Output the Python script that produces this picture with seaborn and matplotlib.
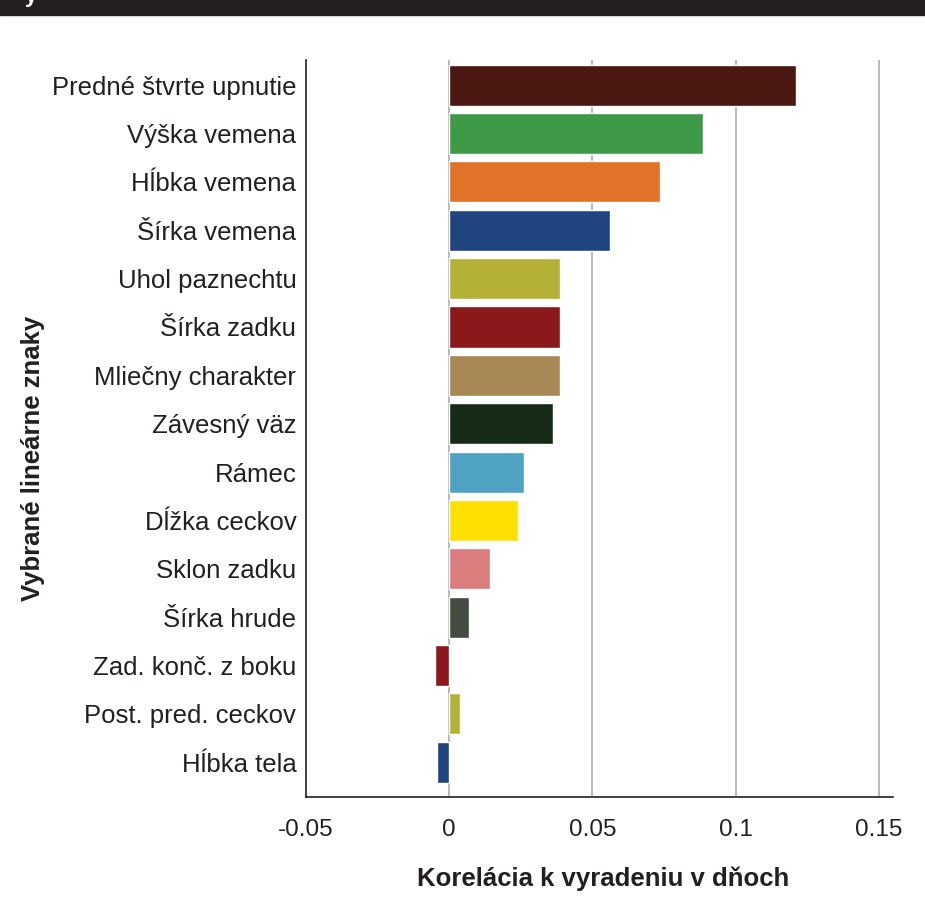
import matplotlib
matplotlib.use("Agg")
import matplotlib.pyplot as plt
import matplotlib.patches as mpatches
import seaborn as sns
import pandas as pd

# Selected linear traits and their correlation with culling (days)
traits = [
    "Predné štvrte upnutie", "Výška vemena", "Hĺbka vemena", "Šírka vemena",
    "Uhol paznechtu", "Šírka zadku", "Mliečny charakter", "Závesný väz",
    "Rámec", "Dĺžka ceckov", "Sklon zadku", "Šírka hrude",
    "Zad. konč. z boku", "Post. pred. ceckov", "Hĺbka tela",
]
correlations = [
    0.121, 0.0885, 0.0738, 0.056,
    0.0388, 0.0388, 0.0388, 0.0364,
    0.0262, 0.0241, 0.0143, 0.007,
    -0.0049, 0.0038, -0.0042,
]
bar_colors = [
    "#4a1810", "#3f9a47", "#e07328", "#1f447f",
    "#b3b236", "#8b191c", "#a88855", "#172a17",
    "#4fa2c2", "#ffe000", "#da7e7d", "#434c40",
    "#8b191c", "#b3b236", "#1f447f",
]
x_ticks = [-0.05, 0, 0.05, 0.1, 0.15]
x_tick_labels = ["-0.05", "0", "0.05", "0.1", "0.15"]

df = pd.DataFrame({"znak": traits, "korelacia": correlations})

sns.set_theme(style="white")
plt.rcParams["font.family"] = ["Liberation Sans", "DejaVu Sans"]

fig = plt.figure(figsize=(9.25, 9.11), dpi=100)
ax = fig.add_axes([0.3308, 0.1251, 0.6346, 0.8090])

# vertical grid lines behind the bars
for xv in x_ticks[1:]:
    ax.axvline(xv, color="#b4b4b4", lw=1.3, zorder=0)

sns.barplot(
    data=df, x="korelacia", y="znak", hue="znak",
    palette=bar_colors, legend=False, orient="h",
    width=0.85, saturation=1, ax=ax, zorder=2,
)

ax.set_xlim(-0.05, 0.155)
ax.set_ylim(len(traits) - 1 + 0.72, -0.52)
ax.set_xticks(x_ticks)
ax.set_xticklabels(x_tick_labels)
ax.tick_params(axis="x", length=0, pad=16, labelsize=17.5, colors="#231f20")
ax.tick_params(axis="y", length=0, pad=7, labelsize=18.5, colors="#231f20")

for side in ("top", "right"):
    ax.spines[side].set_visible(False)
for side in ("left", "bottom"):
    ax.spines[side].set_color("#231f20")
    ax.spines[side].set_linewidth(1.2)

ax.set_xlabel("Korelácia k vyradeniu v dňoch", fontsize=18.5,
              fontweight="bold", color="#231f20")
ax.set_ylabel("Vybrané lineárne znaky", fontsize=18.5,
              fontweight="bold", color="#231f20")
ax.yaxis.set_label_coords(-0.445, 0.46)
ax.xaxis.set_label_coords(0.507, -0.094)

# dark header band along the top edge
fig.patches.append(mpatches.Rectangle((0, 1 - 15 / 911), 1, 15 / 911,
                                      transform=fig.transFigure,
                                      color="#231f20", zorder=0))
fig.text(0.027, 1 - 2 / 911, "y", color="white", fontsize=16,
         fontweight="bold", va="baseline", ha="left")

fig.savefig("out.png", dpi=100)
